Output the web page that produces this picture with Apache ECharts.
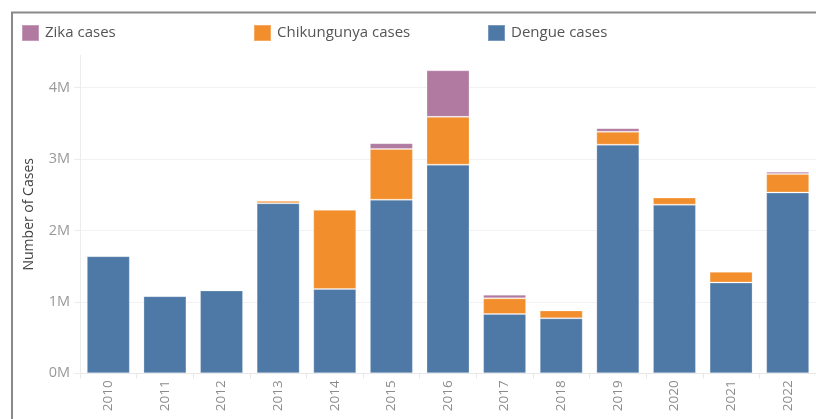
<!DOCTYPE html>
<html>
<head>
<meta charset="utf-8">
<script src="https://cdn.jsdelivr.net/npm/echarts@6/dist/echarts.min.js"></script>
<style>
	html, body { margin: 0; padding: 0; background: #fff; }
	#chart { width: 816px; height: 419px; }
</style>
</head>
<body>
<div id="chart"></div>
<script>
// years on the x axis
var years = ['2010','2011','2012','2013','2014','2015','2016','2017','2018','2019','2020','2021','2022'];
// cases (in cases, not millions)
var dengueCases = [1640000, 1080000, 1160000, 2380000, 1180000, 2430000, 2920000, 830000, 770000, 3200000, 2360000, 1270000, 2530000];
var chikCases   = [0, 0, 0, 35000, 1110000, 710000, 670000, 220000, 110000, 180000, 100000, 150000, 260000];
var zikaCases   = [0, 0, 0, 0, 0, 80000, 650000, 50000, 8000, 50000, 8000, 8000, 30000];
var yTicks = [0, 1000000, 2000000, 3000000, 4000000];

var fontName = 'Open Sans';
var myChart = echarts.init(document.getElementById('chart'));

function legendItem(name, left){
	return {
		data: [name],
		left: left,
		top: 19,
		itemWidth: 17,
		itemHeight: 16,
		itemGap: 0,
		icon: 'rect',
		selectedMode: false,
		textStyle: { color: '#555', fontSize: 15, fontFamily: fontName, padding: [0, 0, 0, 1] }
	};
}

var option = {
	animation: false,
	legend: [
		legendItem('Zika cases', 16),
		legendItem('Chikungunya cases', 248),
		legendItem('Dengue cases', 482)
	],
	// frame: only left and top edges are visible
	graphic: [{
		type: 'polyline',
		shape: { points: [[12, 430], [12, 12.5], [830, 12.5]] },
		style: { fill: null, stroke: '#8a8a8a', lineWidth: 2 },
		silent: true
	}],
	grid: {
		left: 80,
		right: -1,
		top: 55.3,
		bottom: 45.7
	},
	xAxis: {
		type: 'category',
		data: years,
		axisLine: { show: true, lineStyle: { color: '#e8e8e8' } },
		axisTick: { show: true, length: 5, lineStyle: { color: '#e8e8e8' } },
		axisLabel: {
			rotate: 90,
			color: '#8c8c8c',
			fontSize: 13.5,
			fontFamily: fontName,
			margin: 7
		}
	},
	yAxis: {
		type: 'value',
		min: 0,
		max: 4450000,
		interval: 1000000,
		name: 'Number of Cases',
		nameLocation: 'middle',
		nameGap: 44,
		nameTextStyle: { color: '#444', fontSize: 14, fontFamily: fontName },
		axisLine: { show: true, lineStyle: { color: '#ececec' } },
		axisTick: { show: true, length: 6, lineStyle: { color: '#ececec' } },
		axisLabel: {
			color: '#999',
			fontSize: 14.5,
			fontFamily: fontName,
			margin: 10,
			showMaxLabel: false,
			formatter: function(v){
				if(yTicks.indexOf(v) < 0) return '';
				return (v / 1000000) + 'M';
			}
		},
		splitLine: { show: true, showMaxLine: false, lineStyle: { color: '#f2f2f2' } }
	},
	series: [
		{
			name: 'Dengue cases',
			type: 'bar',
			stack: 'cases',
			barWidth: 43,
			itemStyle: { color: '#4e79a7', borderColor: 'rgba(255,255,255,0.25)', borderWidth: 1 },
			data: dengueCases
		},
		{
			name: 'Chikungunya cases',
			type: 'bar',
			stack: 'cases',
			barWidth: 43,
			itemStyle: { color: '#f28e2b', borderColor: 'rgba(255,255,255,0.25)', borderWidth: 1 },
			data: chikCases
		},
		{
			name: 'Zika cases',
			type: 'bar',
			stack: 'cases',
			barWidth: 43,
			itemStyle: { color: '#b07aa1', borderColor: 'rgba(255,255,255,0.25)', borderWidth: 1 },
			data: zikaCases
		}
	]
};
myChart.setOption(option);
</script>
</body>
</html>
